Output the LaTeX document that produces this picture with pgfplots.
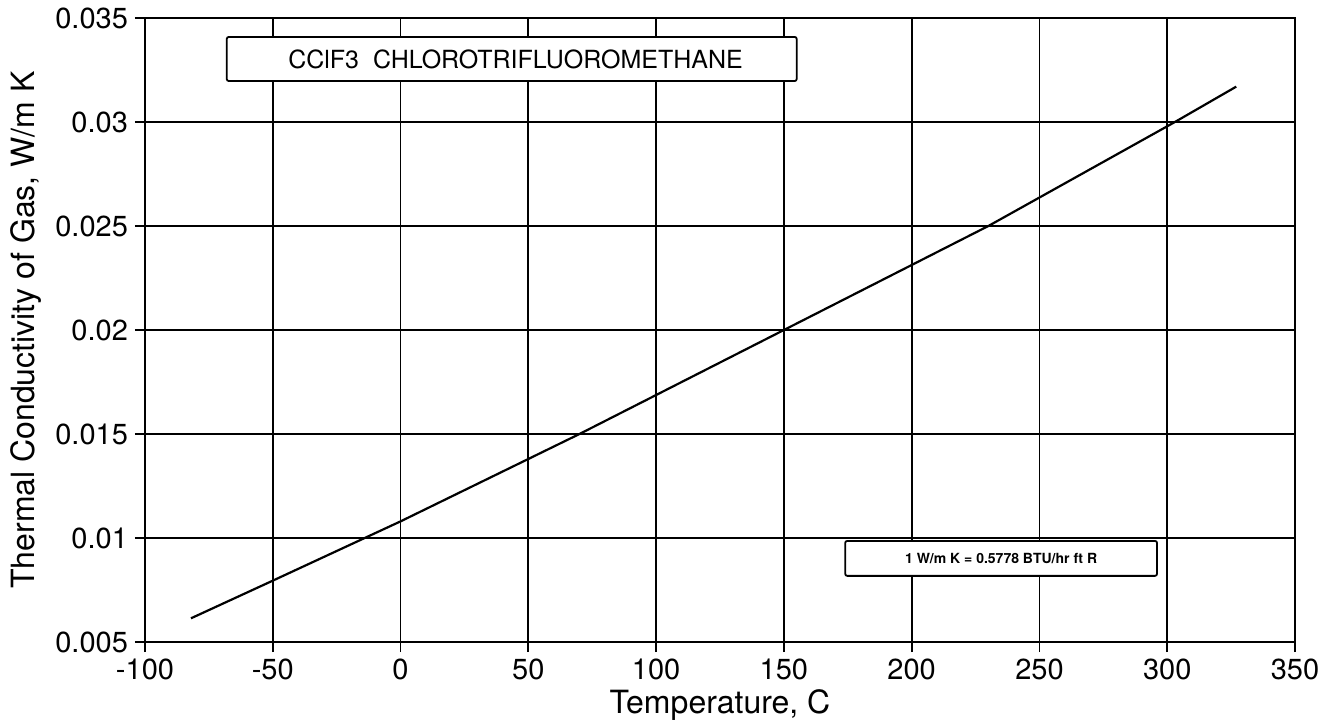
\documentclass[border=0pt]{standalone}
\usepackage{fontspec}
\setmainfont{TeX Gyre Heros}
\usepackage{pgfplots}
\pgfplotsset{compat=1.18}

\begin{document}
\begin{tikzpicture}
\begin{axis}[
  scale only axis,
  width=575pt, height=312pt,
  xmin=-100, xmax=350,
  ymin=0.005, ymax=0.035,
  xtick={-100,-50,...,350},
  ytick={0.005,0.01,0.015,0.02,0.025,0.03,0.035},
  scaled y ticks=false,
  yticklabel style={/pgf/number format/fixed, /pgf/number format/precision=3},
  /pgf/number format/assume math mode=true,
  tick label style={font=\fontsize{14.5}{16}\selectfont},
  label style={font=\fontsize{16}{18}\selectfont},
  xlabel={Temperature, C},
  ylabel={Thermal Conductivity of Gas, W/m K},
  xlabel style={yshift=2pt},
  ylabel style={yshift=0pt},
  tick align=outside,
  major tick length=5pt,
  tick style={black, line width=0.9pt},
  xtick pos=bottom, ytick pos=left,
  axis line style={line width=1.2pt},
  grid=major,
  major grid style={black, line width=0.9pt},
  clip=false,
]
\addplot[black, line width=1.1pt] coordinates {
  (-82,0.00614) (-50,0.00795) (0,0.0108) (70,0.0150) (150,0.0200)
  (230,0.0250) (303,0.0300) (327,0.0317)
};
\draw[line width=0.9pt, fill=white, rounded corners=1pt]
  (axis cs:-68,0.03409) rectangle (axis cs:155,0.03197);
\node[font=\fontsize{12.5}{14}\selectfont] at (axis cs:45,0.03303)
  {CClF3\ \ CHLOROTRIFLUOROMETHANE};
\draw[line width=0.9pt, fill=white, rounded corners=1pt]
  (axis cs:174,0.00986) rectangle (axis cs:296,0.00818);
\node[font=\fontsize{7}{8}\selectfont\bfseries] at (axis cs:235,0.00902)
  {1 W/m K = 0.5778 BTU/hr ft R};
\end{axis}
\pgfresetboundingbox
\path (-72.5pt,-39pt) rectangle (595.5pt,321pt);
\end{tikzpicture}
\end{document}
